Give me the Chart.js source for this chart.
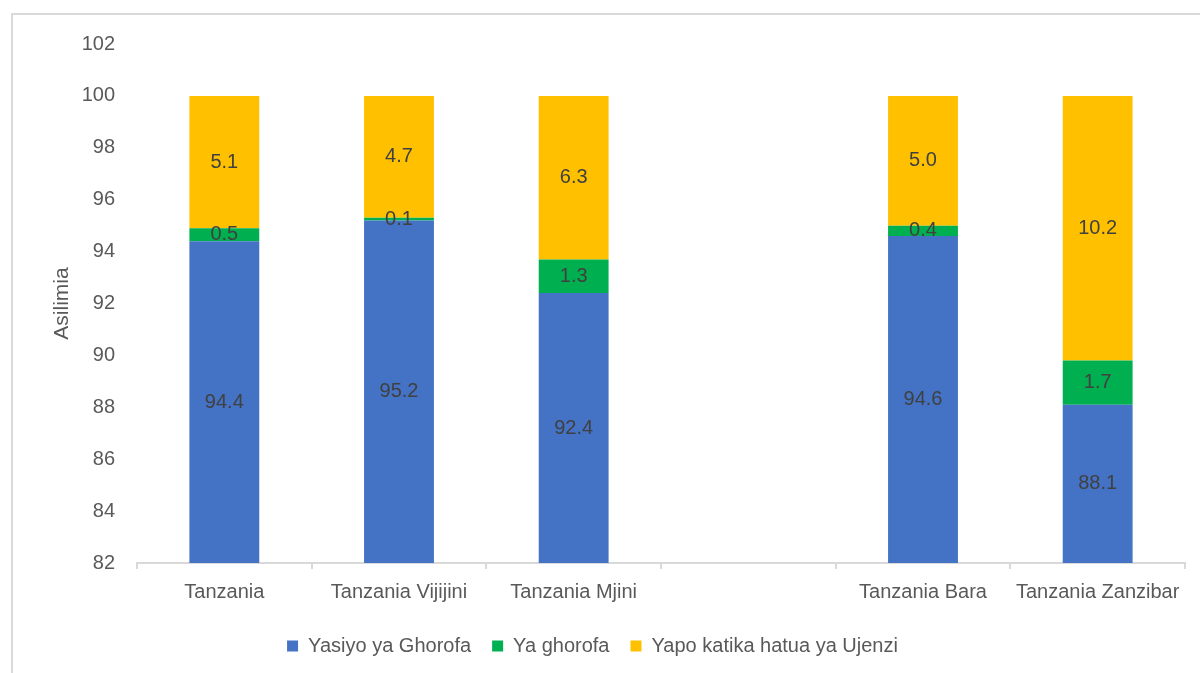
<!DOCTYPE html>
<html>
<head>
<meta charset="utf-8">
<script src="https://cdn.jsdelivr.net/npm/chart.js@4.4.1/dist/chart.umd.min.js"></script>
<style>
    html, body { margin: 0; padding: 0; background: #fff; overflow: hidden; }
    #frame {
        position: absolute; left: 11px; top: 13px;
        width: 1300px; height: 800px;
        border: 2px solid #d9d9d9; box-sizing: border-box;
    }
    #wrap { position: absolute; left: 0; top: 0; width: 1200px; height: 666px; }
</style>
</head>
<body>
<div id="frame"></div>
<div id="wrap"><canvas id="chart"></canvas></div>
<script>
const categories = ["Tanzania", "Tanzania Vijijini", "Tanzania Mjini", "", "Tanzania Bara", "Tanzania Zanzibar"];
const seriesNames = ["Yasiyo ya Ghorofa", "Ya ghorofa", "Yapo katika hatua ya Ujenzi"];
const yasiyo = [94.4, 95.2, 92.4, null, 94.6, 88.1];
const yaGhorofa = [0.5, 0.1, 1.3, null, 0.4, 1.7];
const ujenzi = [5.1, 4.7, 6.3, null, 5.0, 10.2];
const seriesColors = ["#4472c4", "#00b050", "#ffc000"];
const yTicks = { min: 82, max: 102, step: 2 };

const fontFamily = "'Liberation Sans Narrow', 'Arial Narrow', 'Liberation Sans', Arial, sans-serif";
const fontSize = 20;

// draws the value in the middle of the visible part of each segment
const segmentLabels = {
    id: "segmentLabels",
    afterDatasetsDraw(chart) {
        const ctx = chart.ctx;
        const y = chart.scales.y;
        ctx.save();
        ctx.font = fontSize + "px " + fontFamily;
        ctx.fillStyle = "#404040";
        ctx.textAlign = "center";
        ctx.textBaseline = "middle";
        chart.data.labels.forEach((_, i) => {
            let base = 0;
            chart.data.datasets.forEach((ds, d) => {
                const v = ds.data[i];
                if (v == null) return;
                const lo = Math.max(base, y.min);
                const hi = Math.min(base + v, y.max);
                base += v;
                if (hi <= lo) return;
                const bar = chart.getDatasetMeta(d).data[i];
                const cy = (y.getPixelForValue(lo) + y.getPixelForValue(hi)) / 2;
                ctx.fillText(v.toFixed(1), bar.x, cy);
            });
        });
        ctx.restore();
    },
};

new Chart(document.getElementById("chart"), {
    type: "bar",
    plugins: [segmentLabels],
    data: {
        labels: categories,
        datasets: [
            { label: seriesNames[0], data: yasiyo, backgroundColor: seriesColors[0] },
            { label: seriesNames[1], data: yaGhorofa, backgroundColor: seriesColors[1] },
            { label: seriesNames[2], data: ujenzi, backgroundColor: seriesColors[2] },
        ],
    },
    options: {
        responsive: true,
        maintainAspectRatio: false,
        animation: false,
        datasets: { bar: { categoryPercentage: 1, barPercentage: 0.4 } },
        layout: { padding: { left: 0, right: 15, top: 44, bottom: 0 } },
        plugins: {
            tooltip: { enabled: false },
            legend: {
                position: "bottom",
                labels: {
                    boxWidth: 11,
                    boxHeight: 11,
                    padding: 21,
                    color: "#595959",
                    font: { family: fontFamily, size: fontSize },
                },
            },
        },
        scales: {
            x: {
                stacked: true,
                grid: {
                    display: true,
                    offset: true,
                    drawOnChartArea: false,
                    drawTicks: true,
                    tickLength: 6,
                    color: "#d9d9d9",
                    lineWidth: 2,
                },
                border: { color: "#d9d9d9", width: 2 },
                ticks: {
                    color: "#595959",
                    padding: 11,
                    autoSkip: false,
                    maxRotation: 0,
                    font: { family: fontFamily, size: fontSize },
                },
            },
            y: {
                stacked: true,
                min: yTicks.min,
                max: yTicks.max,
                grid: { display: false, drawTicks: false },
                border: { display: false },
                ticks: {
                    stepSize: yTicks.step,
                    color: "#595959",
                    padding: 22,
                    font: { family: fontFamily, size: fontSize },
                },
                title: {
                    display: true,
                    text: "Asilimia",
                    color: "#595959",
                    padding: { top: 50, bottom: 0 },
                    font: { family: fontFamily, size: 21 },
                },
                afterFit(scale) {
                    scale.width = 137;
                },
            },
        },
    },
});
</script>
</body>
</html>
